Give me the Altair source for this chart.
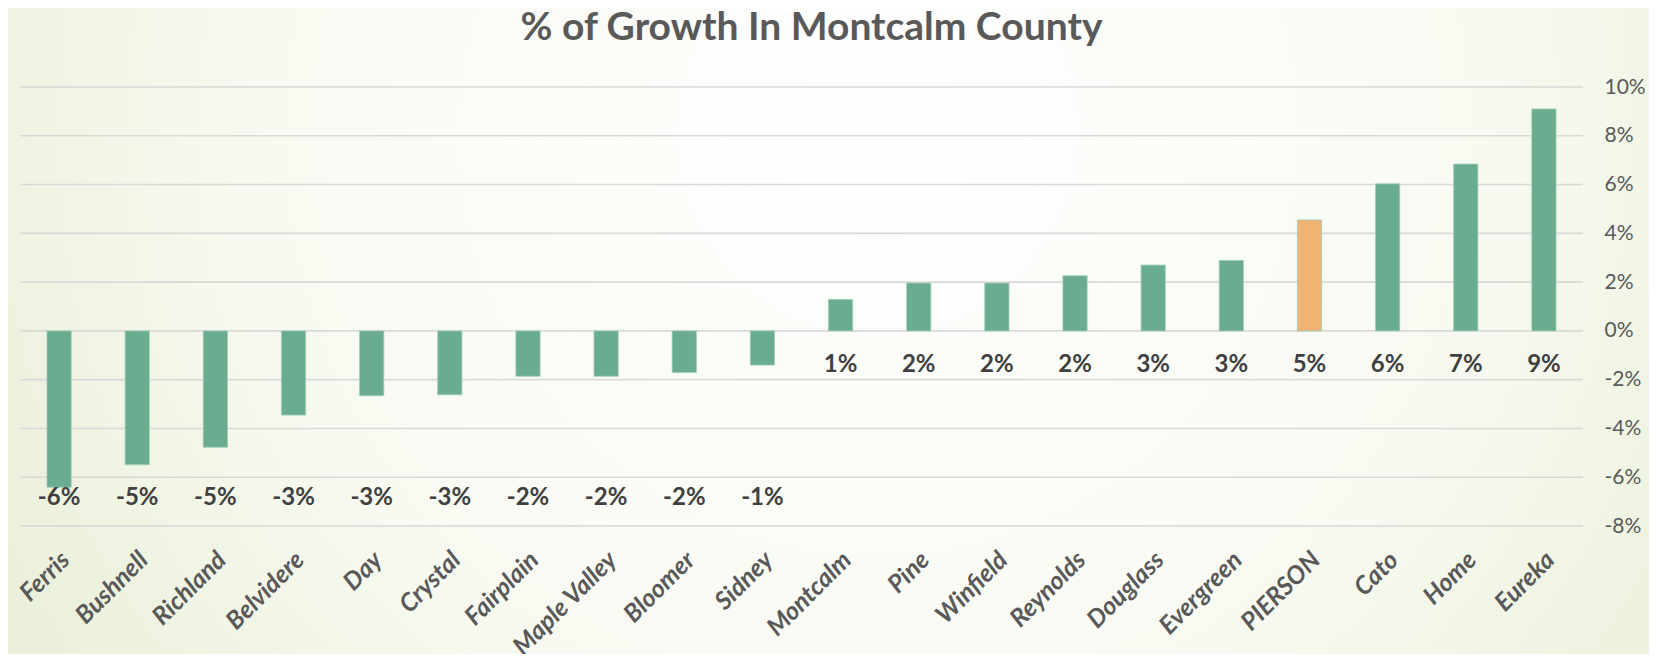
import altair as alt
import pandas as pd

title_text = "% of Growth In Montcalm County"
places = ["Ferris", "Bushnell", "Richland", "Belvidere", "Day", "Crystal", "Fairplain",
          "Maple Valley", "Bloomer", "Sidney", "Montcalm", "Pine", "Winfield", "Reynolds",
          "Douglass", "Evergreen", "PIERSON", "Cato", "Home", "Eureka"]
growth = [-0.0641, -0.0549, -0.0477, -0.0345, -0.0266, -0.0262, -0.0186,
          -0.0186, -0.0171, -0.0140, 0.0129, 0.0196, 0.0196, 0.0226,
          0.0270, 0.0289, 0.0455, 0.0603, 0.0684, 0.0910]
tick_values = [-0.08, -0.06, -0.04, -0.02, 0.0, 0.02, 0.04, 0.06, 0.08, 0.10]
highlight = "PIERSON"

df = pd.DataFrame({"place": places, "growth": growth})
grid_df = pd.DataFrame({"tick": tick_values})

W, H = 1563, 439
PAD_L, PAD_T, PAD_R, PAD_B = 12, 79, 66, 128
FONT = "Lato"
GREEN = "#6aac90"
ORANGE = "#f0b371"

yscale = alt.Scale(domain=[-0.08, 0.10], nice=False, zero=False)
xscale = alt.Scale(paddingInner=0.69, paddingOuter=0.345)

bg = alt.Chart(pd.DataFrame({"a": [0]})).mark_rect(
    fill=alt.RadialGradient(
        gradient="radial", x1=0.53, y1=0.38, r1=0.05, x2=0.53, y2=0.38, r2=0.75,
        stops=[alt.GradientStop(offset=0, color="#fefefd"),
               alt.GradientStop(offset=0.45, color="#f8faf2"),
               alt.GradientStop(offset=1, color="#e2eacb")]),
).encode(
    x=alt.value(-PAD_L), x2=alt.value(W + PAD_R),
    y=alt.value(-PAD_T), y2=alt.value(H + PAD_B),
)

title = alt.Chart(pd.DataFrame({"t": [title_text]})).mark_text(
    font=FONT, fontSize=39, fontWeight="bold", color="#595959",
    align="center", baseline="alphabetic",
).encode(x=alt.value(W / 2 + 10), y=alt.value(-47), text="t:N")

grid = alt.Chart(grid_df).mark_rule(color="#d9d9d9", strokeWidth=1.6).encode(
    y=alt.Y("tick:Q", scale=yscale)
)

bars = alt.Chart(df).mark_bar(stroke="#9fcdb8", strokeWidth=0.8).encode(
    x=alt.X("place:N", sort=places, scale=xscale, title=None,
            axis=alt.Axis(labelAngle=-45, labelFont=FONT, labelFontSize=25,
                          labelFontWeight="bold", labelFontStyle="italic",
                          labelColor="#595959", ticks=False, tickSize=0, domain=False,
                          grid=False, labelPadding=21, labelOffset=-2, zindex=1)),
    y=alt.Y("growth:Q", scale=yscale, title=None,
            axis=alt.Axis(orient="right", values=tick_values, domain=False, ticks=False,
                          tickSize=0, grid=False, labelPadding=21, labelFont=FONT,
                          labelFontSize=21, labelColor="#595959",
                          labelExpr="(datum.value < 0 ? '-' : '') + format(abs(datum.value), '.0%')",
                          zindex=1)),
    color=alt.condition(alt.datum.place == highlight, alt.value(ORANGE), alt.value(GREEN)),
)

labels = alt.Chart(df).transform_calculate(
    lab="(datum.growth < 0 ? '-' : '') + format(abs(datum.growth), '.0%')",
    ly="datum.growth < 0 ? -0.0684 : -0.0141",
).mark_text(font=FONT, fontSize=24, fontWeight="bold", color="#404040",
            baseline="middle", align="center").encode(
    x=alt.X("place:N", sort=places, scale=xscale),
    y=alt.Y("ly:Q", scale=yscale),
    text="lab:N",
)

chart = alt.layer(bg, title, grid, bars, labels).properties(
    width=W, height=H,
    autosize=alt.AutoSizeParams(type="none"),
    padding={"left": PAD_L, "top": PAD_T, "right": PAD_R, "bottom": PAD_B},
    background="#eef2e2",
).configure_view(stroke=None)

chart.save("out.html", embed_options={"renderer": "svg", "actions": False})
